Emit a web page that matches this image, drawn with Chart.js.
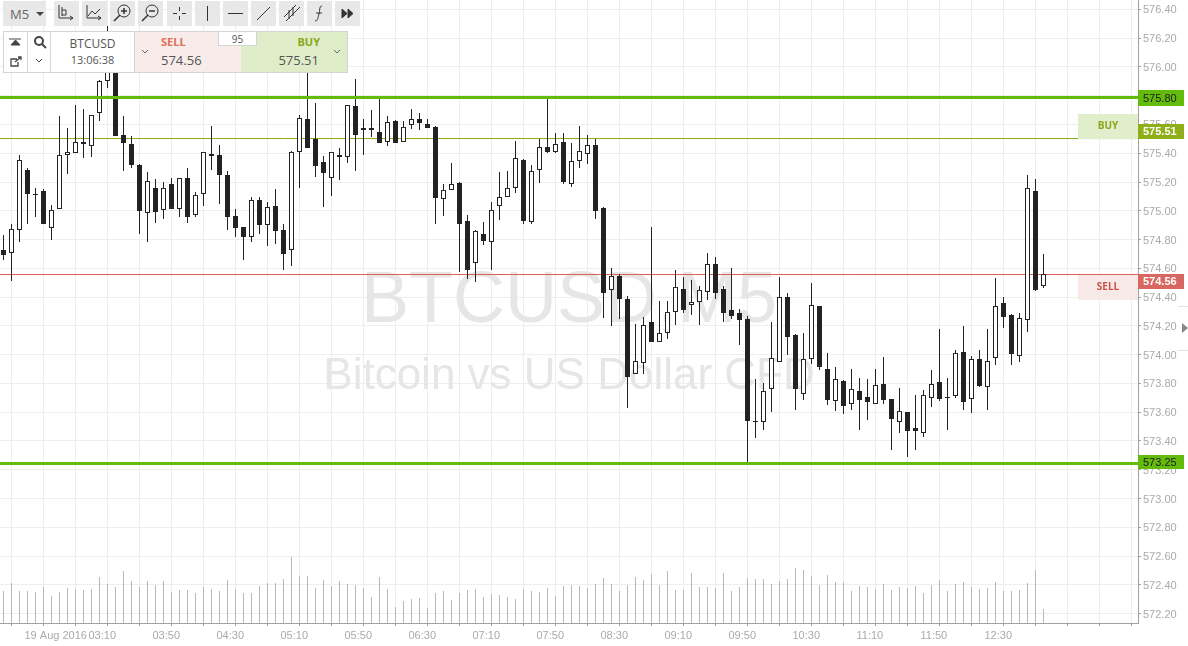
<!DOCTYPE html>
<html>
<head>
<meta charset="utf-8">
<title>BTCUSD M5</title>
<script src="https://cdn.jsdelivr.net/npm/chart.js@4/dist/chart.umd.min.js"></script>
<style>
  html, body { margin: 0; padding: 0; background: #fff; overflow: hidden; }
  #wrap { position: relative; width: 1188px; height: 646px; font-family: "Open Sans", sans-serif; color: #555; }
  canvas { position: absolute; left: 0; top: 0; }
  .btn { position: absolute; top: 1px; height: 25px; width: 25px; background: #e8e8e8; }
  .btn svg { display: block; width: 25px; height: 25px; }
  #m5 { left: 3px; width: 43px; font-size: 13px; line-height: 26px; text-indent: 7px; color: #666; }
  #m5:after { content: ""; position: absolute; left: 33px; top: 11px; border: 4px solid transparent; border-top: 4px solid #444; }
  #panel { position: absolute; left: 3px; top: 31px; width: 343px; height: 40px; background: #fff; border: 1px solid #d4d4d4; }
  #panel div { position: absolute; top: 0; height: 40px; box-sizing: border-box; }
  .sym { left: 46px; width: 85px; text-align: center; font-size: 12px; line-height: 16px; padding-top: 4px; border-left: 1px solid #d4d4d4; border-right: 1px solid #d4d4d4; }
  .sym span { font-size: 11px; }
  .sell { left: 131px; width: 106px; background: #f7ecea; }
  .buy { left: 237px; width: 106px; background: #deedc8; }
  .lbl { font-size: 11px; font-weight: 700; position: absolute; top: 3px; line-height: 14px; }
  .val { font-size: 13px; position: absolute; top: 18px; line-height: 20px; color: #555; }
  #spread { position: absolute; left: 218px; top: 31px; width: 39px; height: 15px; background: #fff; border: 1px solid #d4d4d4; box-sizing: border-box; text-align: center; font-size: 10px; line-height: 14px; }
  #tri { position: absolute; left: 1182px; top: 323px; border: 5px solid transparent; border-left: 6px solid #888; border-right: 0; }
  .side { position: absolute; left: 1178px; width: 10px; height: 1px; background: #e4e4e4; }
</style>
</head>
<body>
<div id="wrap">
  <canvas id="chart" width="1188" height="646"></canvas>
  <div class="btn" id="m5">M5</div>
  <div id="tools"></div>
  <div id="panel">
    <div style="left:0;width:23px">
      <svg width="23" height="40" fill="none" stroke="#444"><path d="M5 7h12" /><path d="M7 13h9l-4.500-5z" fill="#444"/><path d="M13 27h-6v7h7v-4M11 30l6-5M14 25h3v3" stroke-width="1.300"/></svg>
    </div>
    <div style="left:23px;width:23px;border-left:1px solid #d4d4d4">
      <svg width="22" height="40" fill="none" stroke="#444" stroke-width="2"><circle cx="11" cy="9" r="4"/><path d="M14 12l4 4"/><path d="M8 27l3 3 3-3" stroke-width="1"/></svg>
    </div>
    <div class="sym">BTCUSD<br><span>13:06:38</span></div>
    <div class="sell">
      <svg width="20" height="40" fill="none" stroke="#666" style="position:absolute;left:0;top:0"><path d="M7 18l3 3 3-3"/></svg>
      <span class="lbl" style="left:26px;color:#e0705a">SELL</span><span class="val" style="left:26px">574.56</span>
    </div>
    <div class="buy">
      <svg width="20" height="40" fill="none" stroke="#666" style="position:absolute;left:86px;top:0"><path d="M7 18l3 3 3-3"/></svg>
      <span class="lbl" style="right:27px;color:#8aa61a">BUY</span><span class="val" style="right:28px">575.51</span>
    </div>
  </div>
  <div id="spread">95</div>
  <div class="side" style="top:306px"></div>
  <div class="side" style="top:350px"></div>
  <div id="tri"></div>
</div>
<script>
// candles (5 minute bars, oldest first)
const opens = [
  574.728, 574.707, 574.867, 575.284, 575.117, 575.138, 574.881, 575.013, 575.388, 575.402,
  575.464, 575.450, 575.680, 575.902, 575.965, 575.527, 575.464, 575.318, 574.985, 575.159,
  575.006, 575.186, 575.013, 575.228, 574.971, 575.117, 575.395, 575.388, 575.249, 574.964,
  574.888, 574.818, 575.075, 574.901, 575.033, 574.867, 574.728, 575.409, 575.638, 575.499,
  575.339, 575.228, 575.388, 575.374, 575.728, 575.576, 575.576, 575.548, 575.478, 575.624,
  575.478, 575.596, 575.638, 575.603, 575.583, 575.082, 575.145, 575.193, 574.929, 574.637,
  574.839, 574.783, 575.033, 575.096, 575.159, 575.353, 574.922, 575.284, 575.443, 575.409,
  575.478, 575.186, 575.346, 575.395, 575.457, 575.020, 574.450, 574.547, 574.387, 573.866,
  573.942, 574.227, 574.088, 574.151, 574.297, 574.457, 574.345, 574.366, 574.436, 574.630,
  574.457, 574.311, 574.290, 574.248, 573.539, 573.532, 573.762, 573.949, 574.401, 574.137,
  573.727, 573.970, 574.338, 573.901, 573.678, 573.817, 573.657, 573.748, 573.706, 573.657,
  573.796, 573.692, 573.532, 573.602, 573.491, 573.456, 573.699, 573.810, 573.706, 573.713,
  574.019, 573.692, 573.970, 573.775, 573.977, 574.359, 574.276, 573.991, 574.241, 575.138,
  574.477
];
const highs = [
  574.832, 574.908, 575.388, 575.298, 575.159, 575.152, 575.040, 575.659, 575.576, 575.735,
  575.708, 575.666, 575.909, 576.284, 576.048, 575.659, 575.520, 575.325, 575.270, 575.221,
  575.200, 575.228, 575.228, 575.298, 575.131, 575.409, 575.590, 575.457, 575.277, 575.013,
  574.888, 575.096, 575.096, 575.061, 575.152, 574.908, 575.416, 575.666, 575.965, 575.749,
  575.381, 575.409, 575.436, 575.735, 575.916, 575.638, 575.701, 575.777, 575.659, 575.631,
  575.624, 575.708, 575.680, 575.638, 575.590, 575.186, 575.332, 575.200, 574.971, 574.867,
  574.922, 575.061, 575.270, 575.277, 575.485, 575.360, 575.318, 575.499, 575.777, 575.541,
  575.541, 575.471, 575.590, 575.527, 575.499, 575.026, 574.603, 574.561, 574.408, 574.213,
  574.262, 574.888, 574.373, 574.373, 574.589, 574.540, 574.519, 574.478, 574.707, 574.679,
  574.478, 574.603, 574.318, 574.269, 573.831, 573.803, 574.227, 574.540, 574.429, 574.144,
  574.151, 574.498, 574.338, 574.012, 573.915, 573.824, 573.901, 573.838, 573.831, 573.901,
  573.984, 573.692, 573.769, 573.602, 573.720, 573.755, 573.894, 574.179, 573.838, 574.033,
  574.200, 573.991, 574.033, 574.179, 574.533, 574.401, 574.283, 574.290, 575.249, 575.221,
  574.700
];
const lows = [
  574.658, 574.512, 574.783, 574.908, 574.957, 574.908, 574.797, 575.013, 575.256, 575.402,
  575.367, 575.374, 575.624, 575.854, 575.520, 575.277, 575.298, 574.839, 574.783, 574.915,
  574.943, 575.013, 574.957, 574.915, 574.957, 575.033, 575.284, 575.047, 574.867, 574.818,
  574.658, 574.783, 574.839, 574.755, 574.769, 574.589, 574.616, 575.159, 575.436, 575.235,
  575.026, 575.103, 575.214, 575.332, 575.277, 575.388, 575.513, 575.471, 575.450, 575.471,
  575.478, 575.569, 575.562, 575.576, 574.908, 574.964, 575.145, 574.575, 574.526, 574.505,
  574.762, 574.589, 574.936, 575.096, 575.124, 574.908, 574.908, 575.193, 575.402, 575.402,
  575.186, 575.166, 575.298, 575.325, 574.943, 574.255, 574.200, 574.248, 573.630, 573.866,
  573.866, 574.088, 574.088, 574.109, 574.206, 574.290, 574.276, 574.206, 574.380, 574.387,
  574.227, 574.248, 574.067, 573.254, 573.421, 573.477, 573.602, 573.949, 573.998, 573.616,
  573.685, 573.935, 573.894, 573.650, 573.609, 573.588, 573.616, 573.477, 573.546, 573.657,
  573.657, 573.338, 573.456, 573.289, 573.338, 573.428, 573.636, 573.678, 573.477, 573.699,
  573.616, 573.595, 573.775, 573.616, 573.928, 574.186, 573.928, 573.949, 574.158, 574.443,
  574.464
];
const closes = [
  574.693, 574.874, 575.353, 575.117, 575.110, 574.908, 575.006, 575.388, 575.409, 575.478,
  575.478, 575.666, 575.902, 575.979, 575.520, 575.471, 575.318, 574.999, 575.207, 574.992,
  575.159, 575.013, 575.228, 574.957, 575.110, 575.409, 575.381, 575.249, 574.957, 574.881,
  574.818, 575.075, 574.901, 575.026, 574.860, 574.700, 575.409, 575.645, 575.436, 575.312,
  575.263, 575.409, 575.374, 575.735, 575.527, 575.562, 575.562, 575.471, 575.617, 575.471,
  575.583, 575.638, 575.610, 575.576, 575.089, 575.145, 575.186, 574.908, 574.589, 574.860,
  574.790, 575.006, 575.096, 575.159, 575.367, 574.929, 575.277, 575.443, 575.409, 575.464,
  575.200, 575.346, 575.416, 575.457, 574.999, 574.429, 574.547, 574.387, 573.845, 573.956,
  574.206, 574.088, 574.151, 574.297, 574.471, 574.311, 574.366, 574.450, 574.630, 574.429,
  574.290, 574.269, 574.241, 573.539, 573.532, 573.748, 573.977, 574.401, 574.123, 573.762,
  573.970, 574.345, 573.915, 573.685, 573.831, 573.643, 573.762, 573.685, 573.671, 573.789,
  573.685, 573.553, 573.609, 573.470, 573.470, 573.720, 573.796, 573.692, 573.699, 574.012,
  573.671, 573.970, 573.782, 573.956, 574.338, 574.262, 574.005, 574.255, 575.159, 574.450,
  574.561
];
// tick volume of each bar
const volumes = [
  32, 40, 32, 32, 31, 36, 27, 31, 35, 34, 33, 34, 46, 39, 36, 52, 42, 36, 42, 38,
  42, 31, 33, 33, 30, 36, 34, 32, 43, 34, 30, 30, 37, 40, 40, 44, 66, 47, 47, 35,
  43, 37, 42, 39, 38, 35, 26, 46, 34, 16, 22, 24, 25, 15, 30, 32, 23, 30, 33, 34,
  26, 29, 28, 26, 24, 34, 32, 31, 35, 27, 37, 38, 37, 35, 39, 45, 39, 32, 38, 46,
  43, 49, 38, 52, 33, 33, 50, 36, 36, 35, 50, 32, 36, 45, 44, 44, 39, 42, 44, 55,
  53, 47, 38, 48, 41, 41, 32, 37, 36, 34, 39, 33, 36, 35, 37, 30, 38, 43, 32, 39,
  41, 36, 34, 35, 41, 32, 32, 33, 40, 53, 14
];
const volumeMax = 623;

const priceTicks = [576.4, 576.2, 576.0, 575.8, 575.6, 575.4, 575.2, 575.0, 574.8, 574.6, 574.4, 574.2,
  574.0, 573.8, 573.6, 573.4, 573.2, 573.0, 572.8, 572.6, 572.4, 572.2];
const timeTicks = [3, 7, 11, 15, 19, 23, 27, 31, 35, 39, 43, 47, 51, 55, 59, 63, 67, 71, 75, 79, 83, 87,
  91, 95, 99, 103, 107, 111, 115, 119, 123, 127, 131, 135, 139];
const timeLabels = ['19 Aug 2016', '', '03:10', '', '03:50', '', '04:30', '', '05:10', '', '05:50', '',
  '06:30', '', '07:10', '', '07:50', '', '08:30', '', '09:10', '', '09:50', '', '10:30', '', '11:10', '',
  '11:50', '', '12:30', '', '', '', ''];

const resistance = 575.787;
const support = 573.244;
const buyPrice = 575.502;
const sellPrice = 574.557;

const dark = '#222222';
const xMin = -0.4375;
const xMax = 141.8125;

// toolbar icons, drawn on 25x25 buttons
const toolIcons = [
  [54, '<path d="M5 4v13h14M8 6v9M8 9h4v5H8M16 15l3 2-3 2" />'],
  [82, '<path d="M5 4v13h14M6 15l4-5 3 3 5-5M16 15l3 2-3 2" />'],
  [110, '<circle cx="14" cy="10" r="6"/><path d="M10 14l-6 6M11 10h6M14 7v6" stroke-width="1.500"/>'],
  [138, '<circle cx="14" cy="10" r="6"/><path d="M10 14l-6 6M11 10h6" stroke-width="1.500"/>'],
  [167, '<path d="M12.500 6v4M12.500 15v4M6 12.500h4M15 12.500h4" />'],
  [195, '<path d="M12.500 5v15" />'],
  [223, '<path d="M5 12.500h15" />'],
  [251, '<path d="M6 19L19 6" />'],
  [279, '<path d="M5 16L17 4M7 20L21 6M10 18V9M14 15V6M18 11" />'],
  [307, '<path d="M15 5c-3 0-2 5-3 8s-1 7-4 7M9 12h6" />'],
  [335, '<path d="M7 8l5 4.500-5 4.500zM13 8l5 4.500-5 4.500z" fill="#333"/>']
];
document.getElementById('tools').innerHTML = toolIcons.map(t =>
  `<div class="btn" style="left:${t[0]}px"><svg fill="none" stroke="#333">${t[1]}</svg></div>`).join('');

const wicks = lows.map((v, i) => ({ x: i, y: [v, highs[i]] }));
const bodies = opens.map((v, i) => ({ x: i, y: [v, closes[i]] }));
const bodyFill = opens.map((v, i) => closes[i] >= v ? '#ffffff' : dark);
const volumeBars = volumes.map((v, i) => ({ x: i, y: v }));

function levelLine(value, color, width, order) {
  return {
    type: 'line',
    data: [{ x: xMin, y: value }, { x: xMax, y: value }],
    borderColor: color,
    borderWidth: width,
    pointRadius: 0,
    order: order
  };
}

// big gray symbol text behind the candles
const watermark = {
  id: 'watermark',
  beforeDatasetsDraw(chart) {
    const c = chart.ctx;
    c.save();
    c.fillStyle = '#e6e6e6';
    c.textAlign = 'center';
    c.textBaseline = 'alphabetic';
    c.font = '72px "Liberation Sans"';
    c.fillText('BTCUSD,M5', 569, 322);
    c.font = '44px "Liberation Sans"';
    c.fillText('Bitcoin vs US Dollar CFD', 569, 389);
    c.restore();
  }
};

// price tags in the right gutter and the BUY / SELL boxes
const tags = {
  id: 'tags',
  afterDraw(chart) {
    const c = chart.ctx;
    const y = chart.scales.y;
    function tag(text, bg, fg, bold, top, h) {
      c.fillStyle = bg;
      c.fillRect(1138, top, 46, h);
      c.fillStyle = fg;
      c.font = (bold ? 'bold ' : '') + '11px "Liberation Sans"';
      c.textAlign = 'left';
      c.textBaseline = 'middle';
      c.fillText(text, 1143, top + h / 2 + 0.5);
    }
    function box(top, h, bg, fg, text) {
      c.fillStyle = bg;
      c.fillRect(1078, top, 60, h);
      c.fillStyle = fg;
      c.font = 'bold 10px "Open Sans"';
      c.textAlign = 'center';
      c.textBaseline = 'middle';
      c.fillText(text, 1108, top + h / 2);
    }
    c.save();
    box(Math.round(y.getPixelForValue(buyPrice)) - 25, 25, '#e0eecb', '#8aa61a', 'BUY');
    box(Math.round(y.getPixelForValue(sellPrice)), 25, '#f7e9e7', '#c9534a', 'SELL');
    tag('575.80', '#63bb0b', '#222', false, Math.round(y.getPixelForValue(resistance)) - 8, 16);
    tag('575.51', '#8fae17', '#fff', true, Math.round(y.getPixelForValue(buyPrice)) - 15, 15);
    tag('574.56', '#d8675f', '#fff', true, Math.round(y.getPixelForValue(sellPrice)) - 1, 15);
    tag('573.25', '#63bb0b', '#222', false, Math.round(y.getPixelForValue(support)) - 8, 14);
    c.restore();
  }
};

new Chart(document.getElementById('chart').getContext('2d'), {
  type: 'bar',
  data: {
    datasets: [
      levelLine(resistance, '#63bb0b', 3, 0),
      levelLine(support, '#63bb0b', 3, 0),
      { data: bodies, backgroundColor: bodyFill, borderColor: dark, borderWidth: 1, borderSkipped: false,
        barThickness: 5, grouped: false, inflateAmount: 0, order: 1 },
      { data: wicks, backgroundColor: dark, borderWidth: 0, barThickness: 1, grouped: false, inflateAmount: 0, order: 2 },
      levelLine(buyPrice, '#8fa80f', 1, 3),
      levelLine(sellPrice, '#dc5f58', 1, 3),
      { data: volumeBars, yAxisID: 'vol', backgroundColor: '#b8b8b8', barThickness: 1, grouped: false, inflateAmount: 0, order: 4 }
    ]
  },
  options: {
    responsive: false,
    animation: false,
    layout: { padding: 0 },
    plugins: { legend: { display: false }, tooltip: { enabled: false } },
    scales: {
      x: {
        type: 'linear',
        min: xMin,
        max: xMax,
        offset: false,
        afterBuildTicks: s => { s.ticks = timeTicks.map(v => ({ value: v })); },
        afterFit: s => { s.height = 23; s.paddingLeft = 0; s.paddingRight = 0; },
        grid: { color: '#eeeeee', tickColor: '#a0a0a0', tickLength: 3 },
        border: { color: '#a0a0a0' },
        ticks: {
          autoSkip: false,
          maxRotation: 0,
          align: 'start',
          labelOffset: -3,
          padding: 3,
          color: '#aaaaaa',
          font: { family: '"Liberation Sans"', size: 11 },
          callback: (v, i) => timeLabels[i]
        }
      },
      y: {
        position: 'right',
        min: 572.135,
        max: 576.465,
        afterBuildTicks: s => { s.ticks = priceTicks.map(v => ({ value: v })); },
        afterFit: s => { s.width = 50; s.paddingTop = 0; s.paddingBottom = 0; },
        grid: { color: '#eeeeee', tickColor: '#a0a0a0', tickLength: 3 },
        border: { color: '#a0a0a0' },
        ticks: {
          padding: 2,
          labelOffset: 1,
          color: '#aaaaaa',
          font: { family: '"Liberation Sans"', size: 11 },
          callback: v => v.toFixed(2)
        }
      },
      vol: { display: false, min: 0, max: volumeMax }
    }
  },
  plugins: [watermark, tags]
});
</script>
</body>
</html>
